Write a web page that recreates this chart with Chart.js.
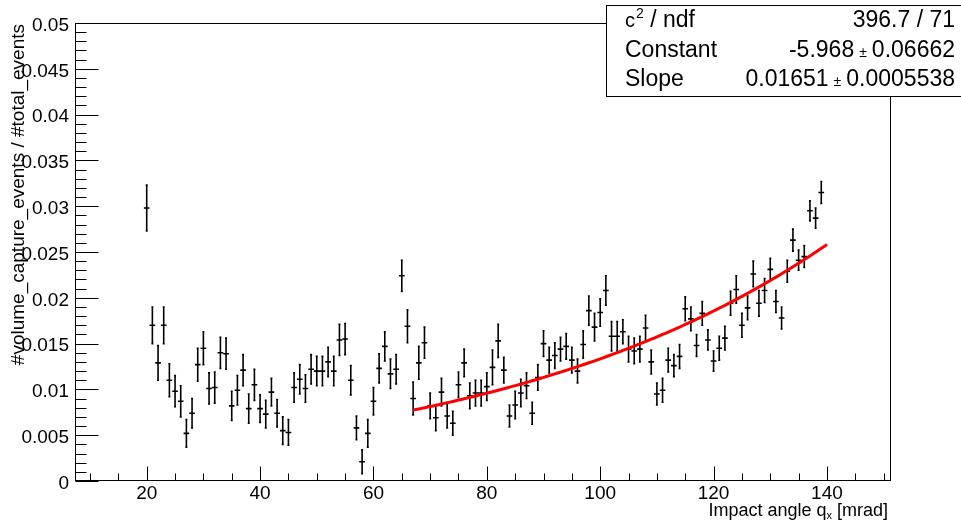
<!DOCTYPE html>
<html>
<head>
<meta charset="utf-8">
<script src="https://cdn.jsdelivr.net/npm/chart.js@4/dist/chart.umd.min.js"></script>
<style>
  html, body { margin: 0; padding: 0; background: #fff; }
</style>
</head>
<body>
<canvas id="myChart" width="961" height="521"></canvas>
<script>
// bin centres of the impact angle histogram [mrad]
const angles = [
  20, 21, 22, 23, 24, 25, 26, 27, 28, 29, 30, 31, 32, 33, 34, 35, 36, 37, 38, 39,
  40, 41, 42, 43, 44, 45, 46, 47, 48, 49, 50, 51, 52, 53, 54, 55, 56, 57, 58, 59,
  60, 61, 62, 63, 64, 65, 66, 67, 68, 69, 70, 71, 72, 73, 74, 75, 76, 77, 78, 79,
  80, 81, 82, 83, 84, 85, 86, 87, 88, 89, 90, 91, 92, 93, 94, 95, 96, 97, 98, 99,
  100, 101, 102, 103, 104, 105, 106, 107, 108, 109, 110, 111, 112, 113, 114, 115, 116, 117, 118, 119,
  120, 121, 122, 123, 124, 125, 126, 127, 128, 129, 130, 131, 132, 133, 134, 135, 136, 137, 138, 139
];

// volume capture events / total events per bin
const ratio = [
  0.0298, 0.0170, 0.0129, 0.0170, 0.0110, 0.0098, 0.0087, 0.0052, 0.0074, 0.0127,
  0.0145, 0.0101, 0.0102, 0.0140, 0.0139, 0.0082, 0.0099, 0.0121, 0.0079, 0.0105,
  0.0079, 0.0073, 0.0097, 0.0074, 0.0055, 0.0053, 0.0102, 0.0111, 0.0101, 0.0122,
  0.0120, 0.0120, 0.0130, 0.0120, 0.0154, 0.0155, 0.0110, 0.0058, 0.0021, 0.0052,
  0.0087, 0.0123, 0.0147, 0.0117, 0.0122, 0.0224, 0.0169, 0.0090, 0.0129, 0.0151,
  0.0082, 0.0069, 0.0097, 0.0071, 0.0063, 0.0105, 0.0129, 0.0093, 0.0096, 0.0096,
  0.0103, 0.0124, 0.0153, 0.0121, 0.0071, 0.0083, 0.0096, 0.0104, 0.0074, 0.0113,
  0.0150, 0.0132, 0.0137, 0.0144, 0.0147, 0.0132, 0.0120, 0.0149, 0.0186, 0.0168,
  0.0184, 0.0208, 0.0158, 0.0158, 0.0163, 0.0144, 0.0142, 0.0144, 0.0167, 0.0130,
  0.0095, 0.0099, 0.0132, 0.0126, 0.0136, 0.0188, 0.0177, 0.0148, 0.0183, 0.0154,
  0.0131, 0.0145, 0.0156, 0.0194, 0.0209, 0.0170, 0.0189, 0.0226, 0.0194, 0.0208,
  0.0231, 0.0196, 0.0178, 0.0229, 0.0263, 0.0241, 0.0245, 0.0295, 0.0287, 0.0315
];

const ratioErr = [
  0.0025, 0.0020, 0.0019, 0.0020, 0.0018, 0.0017, 0.0017, 0.0015, 0.0016, 0.0018,
  0.0018, 0.0017, 0.0017, 0.0017, 0.0017, 0.0016, 0.0016, 0.0017, 0.0016, 0.0017,
  0.0015, 0.0015, 0.0015, 0.0015, 0.0015, 0.0014, 0.0016, 0.0016, 0.0015, 0.0016,
  0.0016, 0.0016, 0.0016, 0.0016, 0.0017, 0.0017, 0.0016, 0.0013, 0.0013, 0.0015,
  0.0015, 0.0016, 0.0016, 0.0016, 0.0016, 0.0017, 0.0018, 0.0018, 0.0018, 0.0017,
  0.0014, 0.0014, 0.0015, 0.0013, 0.0013, 0.0014, 0.0015, 0.0014, 0.0014, 0.0014,
  0.0015, 0.0019, 0.0018, 0.0014, 0.0012, 0.0015, 0.0015, 0.0014, 0.0012, 0.0014,
  0.0014, 0.0014, 0.0014, 0.0013, 0.0014, 0.0014, 0.0013, 0.0015, 0.0016, 0.0015,
  0.0015, 0.0016, 0.0016, 0.0016, 0.0013, 0.0014, 0.0014, 0.0014, 0.0014, 0.0013,
  0.0012, 0.0013, 0.0013, 0.0012, 0.0013, 0.0013, 0.0013, 0.0012, 0.0013, 0.0011,
  0.0011, 0.0013, 0.0013, 0.0013, 0.0015, 0.0013, 0.0013, 0.0014, 0.0014, 0.0013,
  0.0012, 0.0012, 0.0012, 0.0012, 0.0012, 0.0011, 0.0012, 0.0011, 0.0011, 0.0012
];

const yTickValues = [0, 0.005, 0.01, 0.015, 0.02, 0.025, 0.03, 0.035, 0.04, 0.045, 0.05];
const yTickLabels = ['0', '0.005', '0.01', '0.015', '0.02', '0.025', '0.03', '0.035', '0.04', '0.045', '0.05'];
const xTickValues = [20, 40, 60, 80, 100, 120, 140];
const xTickLabels = ['20', '40', '60', '80', '100', '120', '140'];

// expo fit: exp(Constant + Slope * x)
const fitConstant = -5.968;
const fitConstantErr = 0.06662;
const fitSlope = 0.01651;
const fitSlopeErr = 0.0005538;
const fitChi2 = 396.7;
const fitNdf = 71;
const fitRange = [67, 140];

const FONT = '"Liberation Sans", Arial, Helvetica, sans-serif';

let points = angles.map((a, i) => ({ x: a, y: ratio[i] }));
let fitCurve = [];
for (let a = fitRange[0]; a <= fitRange[1] + 1e-9; a += 0.5) {
  fitCurve.push({ x: a, y: Math.exp(fitConstant + fitSlope * a) });
}

// data points drawn as ROOT style crosses with error bars
const errorBars = {
  id: 'errorBars',
  beforeDatasetsDraw(chart) {
    const { ctx, chartArea, scales: { x, y } } = chart;
    ctx.save();
    ctx.beginPath();
    ctx.rect(chartArea.left, chartArea.top, chartArea.right - chartArea.left, chartArea.bottom - chartArea.top);
    ctx.clip();
    ctx.strokeStyle = '#000';
    ctx.lineWidth = 1.6;
    ctx.beginPath();
    angles.forEach((a, i) => {
      const px = x.getPixelForValue(a);
      const py = y.getPixelForValue(ratio[i]);
      const top = y.getPixelForValue(ratio[i] + ratioErr[i]);
      const bot = y.getPixelForValue(ratio[i] - ratioErr[i]);
      const l = x.getPixelForValue(a - 0.5);
      const r = x.getPixelForValue(a + 0.5);
      ctx.moveTo(px, top);
      ctx.lineTo(px, bot);
      ctx.moveTo(l, py);
      ctx.lineTo(r, py);
      ctx.moveTo(px - 1, top);
      ctx.lineTo(px + 1, top);
      ctx.moveTo(px - 1, bot);
      ctx.lineTo(px + 1, bot);
    });
    ctx.stroke();
    ctx.restore();
  }
};

// frame, inward ticks, labels, axis titles and the fit box
const rootFrame = {
  id: 'rootFrame',
  afterDraw(chart) {
    const { ctx, chartArea, scales: { x, y } } = chart;
    const left = chartArea.left + 0.5;
    const right = chartArea.right - 0.5;
    const top = chartArea.top + 0.5;
    const bottom = chartArea.bottom - 0.5;
    ctx.save();
    ctx.strokeStyle = '#000';
    ctx.fillStyle = '#000';
    ctx.lineWidth = 1;
    ctx.strokeRect(left, top, right - left, bottom - top);

    // y ticks
    ctx.beginPath();
    for (let k = 0; k <= 50; k++) {
      const v = k * 0.001;
      const py = Math.round(y.getPixelForValue(v)) + 0.5;
      const len = k % 5 === 0 ? 23 : 11;
      ctx.moveTo(left, py);
      ctx.lineTo(left + len, py);
    }
    // x ticks
    for (let v = 10; v <= 150; v += 5) {
      const px = Math.round(x.getPixelForValue(v)) + 0.5;
      const len = v % 20 === 0 ? 14 : 7;
      ctx.moveTo(px, bottom);
      ctx.lineTo(px, bottom - len);
    }
    ctx.stroke();

    ctx.font = '19px ' + FONT;
    ctx.textAlign = 'right';
    ctx.textBaseline = 'middle';
    yTickValues.forEach((v, i) => {
      ctx.fillText(yTickLabels[i], 69, y.getPixelForValue(v) + 2.5);
    });
    ctx.textAlign = 'center';
    ctx.textBaseline = 'alphabetic';
    xTickValues.forEach((v, i) => {
      ctx.fillText(xTickLabels[i], x.getPixelForValue(v), 499);
    });

    // x axis title, right aligned to the frame
    const big = '18px ' + FONT;
    const small = '11px ' + FONT;
    const partA = 'Impact angle q';
    const partB = 'x';
    const partC = ' [mrad]';
    ctx.textAlign = 'left';
    ctx.font = big;
    const wA = ctx.measureText(partA).width;
    const wC = ctx.measureText(partC).width;
    ctx.font = small;
    const wB = ctx.measureText(partB).width;
    let tx = 888 - (wA + wB + wC);
    ctx.font = big;
    ctx.fillText(partA, tx, 516);
    ctx.font = small;
    ctx.fillText(partB, tx + wA, 519);
    ctx.font = big;
    ctx.fillText(partC, tx + wA + wB, 516);

    // y axis title
    ctx.save();
    ctx.translate(19, 24);
    ctx.rotate(-Math.PI / 2);
    ctx.textAlign = 'right';
    ctx.textBaseline = 'middle';
    ctx.font = '19px ' + FONT;
    ctx.fillText('#volume_capture_events / #total_events', 0, 0);
    ctx.restore();

    // fit statistics box
    ctx.fillStyle = '#fff';
    ctx.fillRect(606.5, 5.5, 370, 91);
    ctx.strokeRect(606.5, 5.5, 370, 91);
    ctx.fillStyle = '#000';
    const statFont = '23px ' + FONT;
    const pmFont = '14px ' + FONT;
    const labelX = 625;
    const valueX = 955;
    const rows = [27, 57, 86];

    ctx.textAlign = 'left';
    ctx.font = '20px ' + FONT;
    ctx.fillText('c', labelX, rows[0]);
    const wc = ctx.measureText('c').width;
    ctx.font = '14px ' + FONT;
    ctx.fillText('2', labelX + wc + 1, rows[0] - 9);
    const w2 = ctx.measureText('2').width;
    ctx.font = statFont;
    ctx.fillText(' / ndf', labelX + wc + 1 + w2, rows[0]);
    ctx.fillText('Constant', labelX, rows[1]);
    ctx.fillText('Slope', labelX, rows[2]);

    ctx.textAlign = 'right';
    ctx.fillText(fitChi2 + ' / ' + fitNdf, valueX, rows[0]);

    function valueWithError(val, err, baseline) {
      ctx.textAlign = 'right';
      ctx.font = statFont;
      const errText = String(err);
      ctx.fillText(errText, valueX, baseline);
      let xr = valueX - ctx.measureText(errText).width - 5;
      ctx.font = pmFont;
      ctx.fillText('\u00b1', xr, baseline);
      xr -= ctx.measureText('\u00b1').width + 5;
      ctx.font = statFont;
      ctx.fillText(String(val), xr, baseline);
    }
    valueWithError(fitConstant, fitConstantErr, rows[1]);
    valueWithError(fitSlope, fitSlopeErr, rows[2]);
    ctx.restore();
  }
};

let ctx = document.getElementById('myChart').getContext('2d');
let myGraph = new Chart(ctx, {
  type: 'scatter',
  data: {
    datasets: [
      {
        label: 'volume capture fraction',
        data: points,
        pointRadius: 0,
        showLine: false
      },
      {
        label: 'expo fit',
        data: fitCurve,
        showLine: true,
        borderColor: '#ff0000',
        borderWidth: 3,
        pointRadius: 0,
        tension: 0
      }
    ]
  },
  options: {
    responsive: false,
    animation: false,
    devicePixelRatio: 1,
    layout: { padding: { left: 75, right: 70, top: 23, bottom: 40 } },
    plugins: {
      legend: { display: false },
      tooltip: { enabled: false }
    },
    scales: {
      x: { type: 'linear', min: 7.35, max: 151.3, display: false },
      y: { type: 'linear', min: 0, max: 0.05, display: false }
    }
  },
  plugins: [errorBars, rootFrame]
});
</script>
</body>
</html>
